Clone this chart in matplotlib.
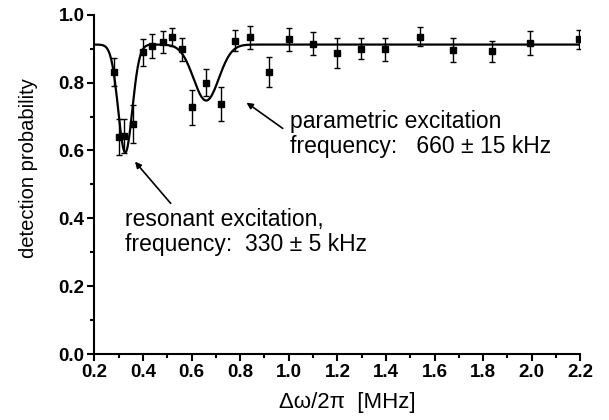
import numpy as np
import matplotlib
matplotlib.use("Agg")
import matplotlib.pyplot as plt
from matplotlib.ticker import MultipleLocator, FormatStrFormatter

freq = [0.281, 0.302, 0.321, 0.360, 0.400, 0.439, 0.481, 0.520, 0.559, 0.600,
        0.659, 0.719, 0.778, 0.840, 0.918, 0.999, 1.098, 1.198, 1.297, 1.398,
        1.538, 1.675, 1.835, 1.993, 2.193]
prob = [0.830, 0.640, 0.643, 0.678, 0.889, 0.908, 0.920, 0.935, 0.898, 0.727,
        0.800, 0.737, 0.923, 0.933, 0.832, 0.927, 0.914, 0.888, 0.900, 0.898,
        0.935, 0.896, 0.892, 0.916, 0.927]
err = [0.041, 0.053, 0.050, 0.057, 0.040, 0.035, 0.033, 0.026, 0.034, 0.052,
       0.041, 0.051, 0.031, 0.034, 0.044, 0.035, 0.034, 0.044, 0.032, 0.033,
       0.028, 0.035, 0.030, 0.036, 0.027]

# Fit model: baseline minus two gaussian dips (center, depth, width)
baseline = 0.912
dip_centers = [0.327, 0.660]
dip_depths = [0.318, 0.165]
dip_widths = [0.029, 0.052]

plt.rcParams['font.family'] = ['Liberation Sans', 'DejaVu Sans']

fig = plt.figure(figsize=(6.09, 4.20), dpi=100)
ax = fig.add_axes([0.155, 0.157, 0.798, 0.808])

xf = np.linspace(0.2, 2.2, 800)
yf = np.full_like(xf, baseline)
for c, d, w in zip(dip_centers, dip_depths, dip_widths):
    yf -= d * np.exp(-0.5 * ((xf - c) / w) ** 2)
ax.plot(xf, yf, color='black', lw=1.6)

ax.errorbar(freq, prob, yerr=err, fmt='s', color='black', ms=4,
            elinewidth=1.0, capsize=2.5, capthick=1.0)

ax.set_xlim(0.2, 2.2)
ax.set_ylim(0.0, 1.0)
ax.xaxis.set_major_locator(MultipleLocator(0.2))
ax.xaxis.set_minor_locator(MultipleLocator(0.1))
ax.yaxis.set_major_locator(MultipleLocator(0.2))
ax.yaxis.set_minor_locator(MultipleLocator(0.1))
ax.xaxis.set_major_formatter(FormatStrFormatter('%.1f'))
ax.yaxis.set_major_formatter(FormatStrFormatter('%.1f'))
ax.tick_params(which='major', direction='out', length=5, width=1.5, labelsize=13.5, pad=2)
ax.tick_params(which='minor', direction='out', length=3, width=1.5)
for lab in ax.get_xticklabels() + ax.get_yticklabels():
    lab.set_fontweight('bold')

for s in ['top', 'right']:
    ax.spines[s].set_visible(False)
for s in ['left', 'bottom']:
    ax.spines[s].set_linewidth(1.5)

ax.set_xlabel('Δω/2π  [MHz]', fontsize=16, va='top')
ax.xaxis.set_label_coords(0.52, -0.112)
ax.set_ylabel('detection probability', fontsize=14.5)
ax.yaxis.set_label_coords(-0.116, 0.548)

# annotations
txt = dict(fontsize=16.5, ha='left', va='baseline')
ax.text(1.005, 0.666, 'parametric excitation', **txt)
ax.text(1.005, 0.592, 'frequency:   660 ± 15 kHz', **txt)
ax.text(0.326, 0.377, 'resonant excitation,', **txt)
ax.text(0.326, 0.304, 'frequency:  330 ± 5 kHz', **txt)

arrow = dict(arrowstyle='-|>', color='black', lw=1.2, mutation_scale=9,
             shrinkA=0, shrinkB=0)
ax.annotate('', xy=(0.826, 0.741), xytext=(0.975, 0.665), arrowprops=arrow)
ax.annotate('', xy=(0.367, 0.567), xytext=(0.514, 0.444), arrowprops=arrow)

fig.savefig('out.png', dpi=100)
